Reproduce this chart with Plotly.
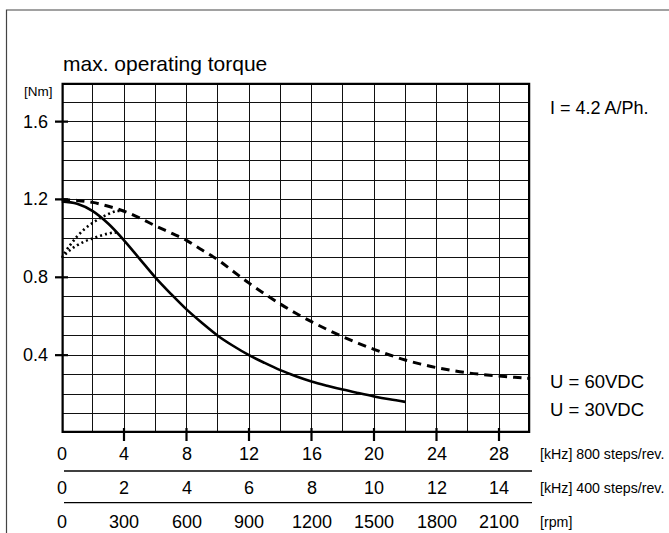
import plotly.graph_objects as go

W, H = 669, 533

# ---- data (x in kHz at 800 steps/rev, y in Nm) ----
solid_x = [0, 1, 2, 3, 4, 5, 6, 7, 8, 9, 10, 11, 12, 13, 14, 15, 16, 17, 18, 19, 20, 21, 22]
solid_y = [1.19, 1.178, 1.14, 1.075, 0.99, 0.895, 0.80, 0.715, 0.635, 0.565, 0.50, 0.447, 0.40, 0.36, 0.323, 0.292, 0.265, 0.243, 0.223, 0.205, 0.188, 0.173, 0.16]

dash_x = [0, 1, 2, 3, 4, 5, 6, 7, 8, 9, 10, 11, 12, 13, 14, 15, 16, 17, 18, 19, 20, 21, 22, 23, 24, 25, 26, 27, 28, 29, 30]
dash_y = [1.20, 1.195, 1.185, 1.165, 1.14, 1.105, 1.065, 1.028, 0.99, 0.94, 0.89, 0.83, 0.77, 0.715, 0.663, 0.615, 0.572, 0.532, 0.495, 0.461, 0.43, 0.401, 0.375, 0.354, 0.336, 0.321, 0.309, 0.30, 0.293, 0.286, 0.28]

dot_hi_x = [0, 0.5, 1, 1.5, 2, 2.5, 3, 3.5, 4]
dot_hi_y = [0.90, 0.96, 1.01, 1.05, 1.08, 1.105, 1.125, 1.14, 1.14]

dot_lo_x = [0, 0.5, 1, 1.5, 2, 2.5, 3, 3.4, 3.7]
dot_lo_y = [0.90, 0.937, 0.965, 0.985, 1.0, 1.014, 1.025, 1.03, 1.025]

khz800_ticks = [0, 4, 8, 12, 16, 20, 24, 28]
khz400_ticks = [0, 2, 4, 6, 8, 10, 12, 14]
rpm_ticks = [0, 300, 600, 900, 1200, 1500, 1800, 2100]
y_ticks = [0.4, 0.8, 1.2, 1.6]

FONT = "Liberation Sans, Arial, sans-serif"


def px(x):
    return x / W


def py(y):
    return 1 - y / H


fig = go.Figure()

fig.add_trace(go.Scatter(x=dash_x, y=dash_y, mode="lines",
                         line=dict(color="black", width=3, dash="8.5px,6px", shape="spline", smoothing=1)))
fig.add_trace(go.Scatter(x=solid_x, y=solid_y, mode="lines",
                         line=dict(color="black", width=2.6, shape="spline", smoothing=1)))
fig.add_trace(go.Scatter(x=dot_hi_x, y=dot_hi_y, mode="lines",
                         line=dict(color="black", width=2.6, dash="2px,3px", shape="spline", smoothing=1)))
fig.add_trace(go.Scatter(x=dot_lo_x, y=dot_lo_y, mode="lines",
                         line=dict(color="black", width=2.6, dash="2px,3px", shape="spline", smoothing=1)))

shapes = []
# outer frame
shapes.append(dict(type="rect", xref="paper", yref="paper", x0=px(6.5), x1=px(700), y0=py(560), y1=py(10),
                   line=dict(color="#444", width=1.2), layer="below"))
# thick plot border
shapes.append(dict(type="rect", xref="x", yref="y", x0=0, x1=30, y0=0, y1=1.8,
                   line=dict(color="black", width=4.5), layer="above"))
# x ticks
for t in khz800_ticks[1:]:
    shapes.append(dict(type="line", xref="x", yref="paper", x0=t, x1=t, y0=py(428), y1=py(441),
                       line=dict(color="black", width=2.2)))
# y ticks
for t in y_ticks:
    shapes.append(dict(type="line", xref="paper", yref="y", x0=px(55), x1=px(68), y0=t, y1=t,
                       line=dict(color="black", width=2.2)))
# separator lines below axis
for yy in (471, 502.7):
    shapes.append(dict(type="line", xref="paper", yref="paper", x0=px(64), x1=px(532), y0=py(yy), y1=py(yy),
                       line=dict(color="black", width=1.3)))

ann = []


def text(x, y, s, size, xanchor="left", xref="paper"):
    ann.append(dict(x=x, y=py(y), xref=xref, yref="paper", text=s, showarrow=False,
                    xanchor=xanchor, yanchor="middle", font=dict(family=FONT, size=size, color="black")))


text(px(60.5), 63.5, "max. operating torque", 21)
text(px(21.5), 92, "[Nm]", 13.5)
for t in y_ticks:
    ann.append(dict(x=px(50), y=t, xref="paper", yref="y", text=f"{t:.1f}", showarrow=False,
                    xanchor="right", yanchor="middle", font=dict(family=FONT, size=18, color="black")))
for t in khz800_ticks:
    text(t, 454, str(t), 18, "center", "x")
for t in khz400_ticks:
    text(t * 2, 487.5, str(t), 18, "center", "x")
for t in rpm_ticks:
    text(t / 75, 522, str(t), 18, "center", "x")

text(px(538), 454, "[kHz] 800 steps/rev.", 14.2)
text(px(538), 487.5, "[kHz] 400 steps/rev.", 14.2)
text(px(538), 522, "[rpm]", 14.2)
text(px(547.5), 108, "I = 4.2 A/Ph.", 18)
text(px(547.5), 381, "U = 60VDC", 18.5)
text(px(547.5), 409, "U = 30VDC", 18.5)

fig.update_layout(
    width=W, height=H, margin=dict(l=0, r=0, t=0, b=0),
    paper_bgcolor="white", plot_bgcolor="white", showlegend=False,
    shapes=shapes, annotations=ann,
    xaxis=dict(domain=[61.5 / W, 530.25 / W], range=[0, 30], dtick=2, tick0=0,
               showgrid=True, gridcolor="#111", gridwidth=1, showticklabels=False,
               zeroline=False, showline=False, ticks=""),
    yaxis=dict(domain=[1 - 433 / H, 1 - 82.7 / H], range=[0, 1.8], dtick=0.1, tick0=0,
               showgrid=True, gridcolor="#111", gridwidth=1, showticklabels=False,
               zeroline=False, showline=False, ticks=""),
)

fig.write_html("out.html")
